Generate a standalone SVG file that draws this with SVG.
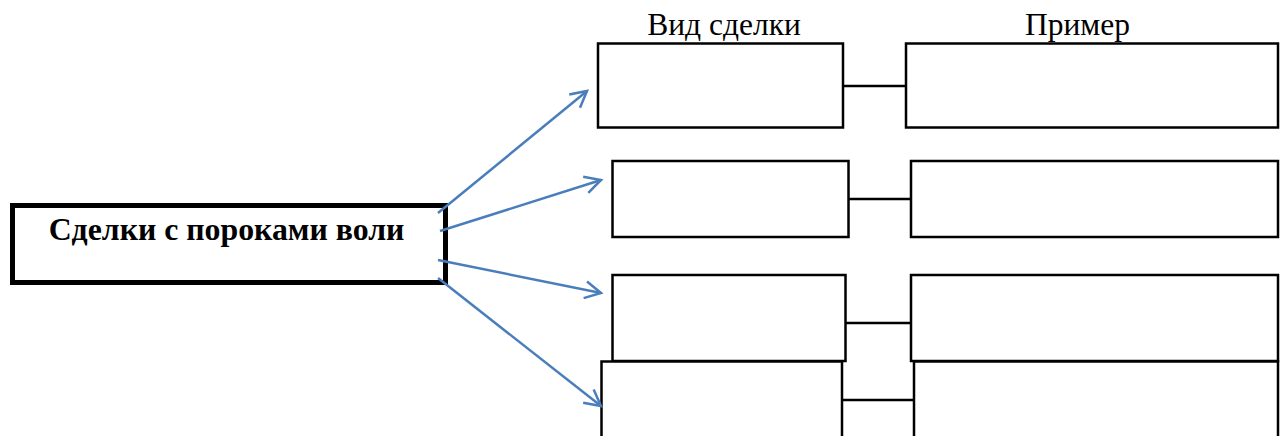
<svg xmlns="http://www.w3.org/2000/svg" width="1281" height="436" viewBox="0 0 1281 436">
<style>
.box{fill:#fff;stroke:#000;stroke-width:2.5}
.main{fill:#fff;stroke:#000;stroke-width:5}
.link{stroke:#000;stroke-width:2.5;fill:none}
.arrow{stroke:#4A7EBB;stroke-width:2.5;fill:none;marker-end:url(#ah)}
.hdr{font-family:"Liberation Serif","Times New Roman",serif;font-size:31.5px;fill:#000;text-anchor:middle}
.ttl{font-family:"Liberation Serif","Times New Roman",serif;font-size:31.8px;font-weight:bold;fill:#000;text-anchor:middle}
</style>
<defs>
<marker id="ah" markerUnits="userSpaceOnUse" markerWidth="22" markerHeight="22" viewBox="0 0 22 22" refX="19" refY="11" orient="auto">
<path d="M3,2.5 L19,11 L3,19.5" fill="none" stroke="#4A7EBB" stroke-width="2.5" stroke-linejoin="miter"/>
</marker>
</defs>
<g id="headers">
<text class="hdr" x="724" y="35">Вид сделки</text>
<text class="hdr" x="1077.5" y="35">Пример</text>
</g>
<g id="main">
<rect class="main" x="12.5" y="205.5" width="433" height="77"/>
<text class="ttl" x="226.5" y="240">Сделки с пороками воли</text>
</g>
<g id="type1"><rect class="box" x="598" y="43.5" width="245" height="84"/></g>
<g id="example1"><rect class="box" x="906" y="43.5" width="372" height="84"/></g>
<g id="type2"><rect class="box" x="612.5" y="161" width="236" height="76"/></g>
<g id="example2"><rect class="box" x="911" y="161" width="367" height="76"/></g>
<g id="type3"><rect class="box" x="612.5" y="275" width="233" height="86"/></g>
<g id="example3"><rect class="box" x="911" y="275" width="367" height="86"/></g>
<g id="type4"><rect class="box" x="601.5" y="361.5" width="240.5" height="90"/></g>
<g id="example4"><rect class="box" x="914" y="361.5" width="364" height="90"/></g>
<g id="connectors">
<line class="link" x1="843" y1="86" x2="906" y2="86"/>
<line class="link" x1="848.5" y1="199" x2="911" y2="199"/>
<line class="link" x1="845.5" y1="323" x2="911" y2="323"/>
<line class="link" x1="842" y1="400" x2="914" y2="400"/>
<line class="arrow" x1="438" y1="213" x2="587" y2="91"/>
<line class="arrow" x1="440" y1="231" x2="601" y2="180"/>
<line class="arrow" x1="438" y1="260" x2="601" y2="293"/>
<line class="arrow" x1="438" y1="278" x2="601" y2="406"/>
</g>
</svg>
